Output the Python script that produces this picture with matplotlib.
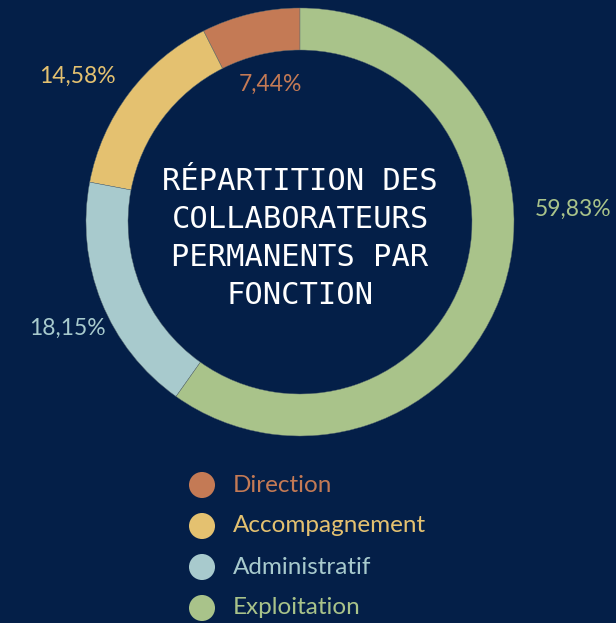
import matplotlib
matplotlib.use("Agg")
import matplotlib.pyplot as plt
import numpy as np

categories = ["Direction", "Accompagnement", "Administratif", "Exploitation"]
values = [7.44, 14.58, 18.15, 59.83]
value_labels = ["7,44%", "14,58%", "18,15%", "59,83%"]
colors = ["#c47a55", "#e4c170", "#a8cacd", "#a9c38a"]
title_lines = ["RÉPARTITION DES", "COLLABORATEURS", "PERMANENTS PAR", "FONCTION"]

BG = "#041f48"
W, H = 616, 623
fig = plt.figure(figsize=(W / 100, H / 100), dpi=100, facecolor=BG)
ax = fig.add_axes([0, 0, 1, 1])
ax.set_facecolor(BG)

cx, cy, R, ring = 300, H - 222, 214, 42
wedges, _ = ax.pie(values, colors=colors, startangle=90, counterclock=True,
                   center=(cx, cy), radius=R, frame=True,
                   wedgeprops=dict(width=ring, edgecolor="#5a6a70", linewidth=0.3))
ax.set_xlim(0, W)
ax.set_ylim(0, H)
ax.set_aspect("equal")
ax.axis("off")

# label placement (angle in degrees, distance from centre in px)
label_layout = [(102, 141), (146.7, 266), (204.5, 256), (2.7, 273)]
for lab, col, (ang, dist) in zip(value_labels, colors, label_layout):
    a = np.deg2rad(ang)
    ax.text(cx + dist * np.cos(a), cy + dist * np.sin(a), lab, color=col,
            fontsize=16.5, family="Lato", ha="center", va="center")

for i, line in enumerate(title_lines):
    ax.text(cx, H - 182 - i * 37.7, line, color="white", fontsize=22,
            family="DejaVu Sans Mono", ha="center", va="center")

# legend
for i, (cat, col) in enumerate(zip(categories, colors)):
    y = H - 485 - i * 41
    ax.scatter([202], [y], s=26 ** 2 * 0.52, color=col, edgecolors="none")
    ax.text(233, y, cat, color=col, fontsize=17.5, family="Lato",
            ha="left", va="center")

fig.savefig("out.png", dpi=100, facecolor=BG)
